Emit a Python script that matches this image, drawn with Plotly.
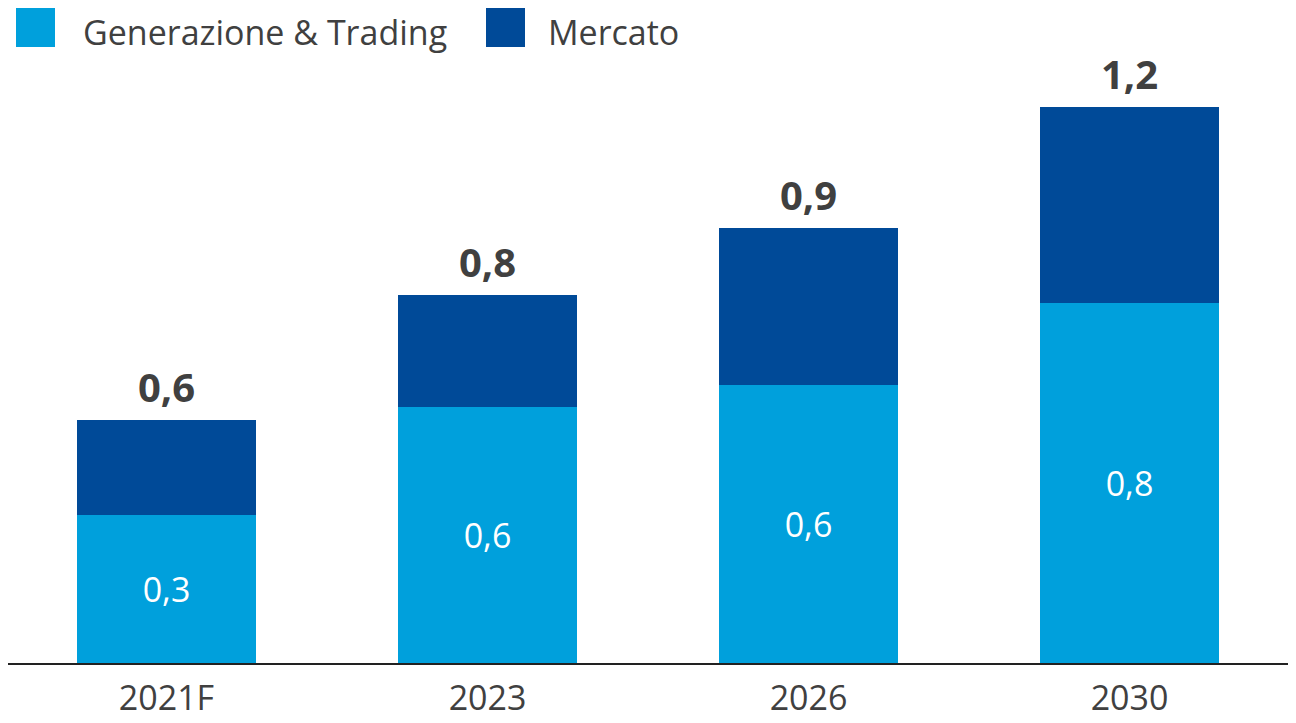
import plotly.graph_objects as go

categories = ["2021F", "2023", "2026", "2030"]
gen_trading = [0.32, 0.553, 0.60, 0.778]
mercato = [0.205, 0.242, 0.339, 0.423]
gen_labels = ["0,3", "0,6", "0,6", "0,8"]
total_labels = ["0,6", "0,8", "0,9", "1,2"]
series_names = ["Generazione & Trading", "Mercato"]

LIGHT = "#00A0DC"
DARK = "#004A98"
TEXT = "#404040"
FONT = "Open Sans"

xpos = list(range(len(categories)))
totals = [a + b for a, b in zip(gen_trading, mercato)]

# page is offset by the 8px body margin; layout in paper pixels
PLOT_W = 1282
PLOT_H = 655
PX_PER_UNIT = 463

fig = go.Figure()
fig.add_trace(go.Bar(
    x=xpos, y=gen_trading, name=series_names[0], width=0.555,
    marker=dict(color=LIGHT, line=dict(width=0)),
    text=gen_labels, textposition="inside", insidetextanchor="middle",
    textfont=dict(color="white", size=34, family=FONT),
    hoverinfo="skip",
))
fig.add_trace(go.Bar(
    x=xpos, y=mercato, name=series_names[1], width=0.555,
    marker=dict(color=DARK, line=dict(width=0)),
    hoverinfo="skip",
))

for xp, t, lab in zip(xpos, totals, total_labels):
    fig.add_annotation(x=xp, y=t, text=f"<b>{lab}</b>", showarrow=False,
                       yanchor="bottom", yshift=4,
                       font=dict(size=40, color=TEXT, family=FONT))

# custom legend (paper pixel positions)
legend_items = [(series_names[0], LIGHT, 8, 65), (series_names[1], DARK, 478, 60)]
for name, col, x0, tx in legend_items:
    fig.add_shape(type="rect", xref="paper", yref="paper",
                  x0=x0 / PLOT_W, x1=(x0 + 39) / PLOT_W,
                  y0=(PLOT_H - 39) / PLOT_H, y1=PLOT_H / PLOT_H,
                  fillcolor=col, line=dict(width=0), layer="above")
    fig.add_annotation(xref="paper", yref="paper",
                       x=(x0 + tx) / PLOT_W, y=(PLOT_H - 24) / PLOT_H,
                       xanchor="left", yanchor="middle", showarrow=False,
                       text=name, font=dict(size=34, color=TEXT, family=FONT))

fig.update_layout(
    barmode="stack",
    width=1296, height=723,
    margin=dict(l=0, r=1296 - PLOT_W, t=0, b=723 - PLOT_H, autoexpand=False),
    paper_bgcolor="white", plot_bgcolor="white",
    showlegend=False,
    font=dict(family=FONT, color=TEXT),
)
fig.update_xaxes(
    range=[-0.5 + 2 / 321, 3.5], automargin=False,
    tickmode="array", tickvals=xpos, ticktext=categories,
    showline=True, linecolor="#222222", linewidth=2,
    tickfont=dict(size=34, color=TEXT, family=FONT),
    ticks="", ticklabelstandoff=4, showgrid=False, zeroline=False,
)
fig.update_yaxes(
    range=[0, PLOT_H / PX_PER_UNIT], visible=False, showgrid=False,
    zeroline=False, automargin=False,
)

fig.write_html("out.html")
